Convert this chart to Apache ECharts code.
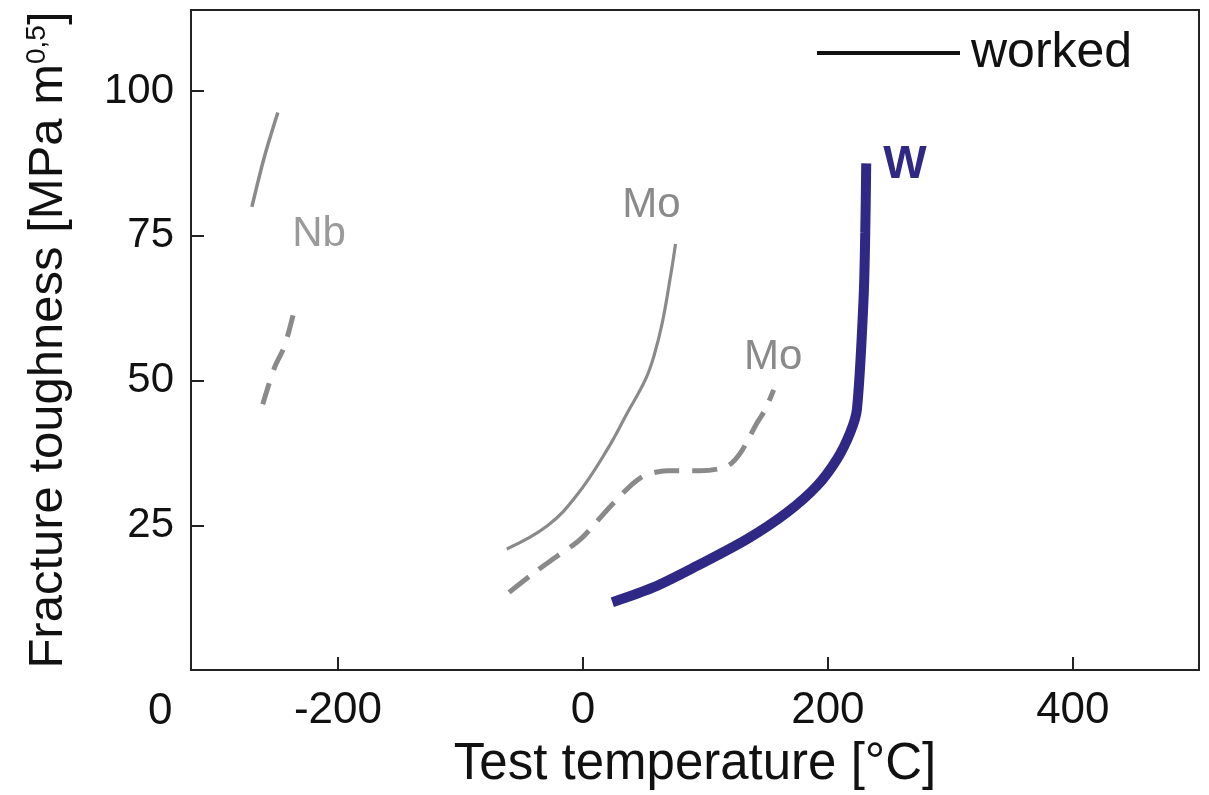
<!DOCTYPE html>
<html>
<head>
<meta charset="utf-8">
<script src="https://cdn.jsdelivr.net/npm/echarts@6/dist/echarts.min.js"></script>
<style>
html,body{margin:0;padding:0;background:#fff;}
#c{width:1209px;height:795px;}
</style>
</head>
<body>
<div id="c"></div>
<script>
// ---- data (temperature in °C, toughness in MPa m^0.5) ----
const xTicks = [-200, 0, 200, 400];
const yTicks = [25, 50, 75, 100];

const nbSolid = [[-270.3, 80.0], [-260.0, 88.7], [-249.1, 96.3]];
const nbDashed = [[-261.4, 45.9], [-251.9, 52.2], [-243.7, 55.9], [-235.6, 62.2]];

const moSolid = [[-62.2, 20.9], [-29.0, 24.9], [-4.6, 30.3], [19.9, 38.1], [36.2, 44.4],
  [51.1, 50.2], [57.9, 54.2], [64.7, 59.9], [71.5, 68.0], [75.6, 73.6]];
const moDashed = [[-60.3, 13.4], [-39.9, 16.8], [-20.9, 19.7], [-1.9, 22.6], [22.6, 28.3],
  [47.0, 33.2], [68.8, 34.4], [95.9, 34.4], [117.7, 35.2], [128.6, 37.5], [142.2, 42.7],
  [148.9, 45.0], [155.7, 48.4]];

const wWorked = [[24.0, 11.7], [57.9, 14.3], [93.3, 18.0], [134.0, 22.6], [166.6, 27.2],
  [191.1, 31.8], [207.4, 36.4], [218.2, 41.0], [223.7, 45.0], [229.1, 64.0],
  [230.5, 75.5], [231.3, 87.5]];

const labelNames = ['Nb', 'Mo', 'Mo', 'W'];
const labelPos = [[-215.4, 75.2], [56.0, 80.3], [155.3, 54.0], [263.0, 87.2]];

const FONT = "'Liberation Sans', Arial, Helvetica, sans-serif";
const GREY = '#8a8a8a';
const NAVY = '#2f2884';

const labelStyles = {
  Nb: {color: '#9a9a9a', fontSize: 42},
  Mo: {color: GREY, fontSize: 42},
  W: {color: NAVY, fontSize: 46, fontWeight: 'bold'}
};
const labelData = labelNames.map(function (n, i) {
  return {name: n, value: labelPos[i], label: labelStyles[n]};
});

const chart = echarts.init(document.getElementById('c'), null, {renderer: 'canvas'});
chart.setOption({
  animation: false,
  backgroundColor: '#fff',
  grid: {left: 191, right: 10, top: 10, bottom: 121, show: true,
    borderColor: '#222', borderWidth: 2, backgroundColor: 'transparent'},
  legend: {
    data: [{name: 'worked', icon: 'rect'}],
    left: 812, top: 23,
    itemWidth: 143, itemHeight: 4, itemGap: 13,
    textStyle: {fontSize: 50, fontFamily: FONT, color: '#111', padding: [0, 0, 0, 6]},
    selectedMode: false
  },
  xAxis: {
    type: 'value', min: -320, max: 503,
    name: 'Test temperature [°C]', nameLocation: 'middle', nameGap: 69,
    nameTextStyle: {fontSize: 51, fontFamily: FONT, color: '#111'},
    axisLine: {show: true, onZero: false, lineStyle: {color: '#222', width: 2}},
    axisTick: {show: true, inside: true, length: 13, customValues: xTicks,
      lineStyle: {color: '#222', width: 2}},
    axisLabel: {show: true, customValues: xTicks, margin: 19, fontSize: 44,
      fontFamily: FONT, color: '#111'},
    splitLine: {show: false}
  },
  yAxis: {
    type: 'value', min: 0, max: 114,
    name: 'Fracture toughness [MPa m{sup|0,5}]', nameLocation: 'middle', nameGap: 118,
    nameRotate: 90,
    nameTextStyle: {fontSize: 49, fontFamily: FONT, color: '#111',
      rich: {sup: {fontSize: 28, fontFamily: FONT, color: '#111', verticalAlign: 'top', padding: [0, 0, 22, 0]}}},
    axisLine: {show: true, onZero: false, lineStyle: {color: '#222', width: 2}},
    axisTick: {show: true, inside: true, length: 13, customValues: yTicks,
      lineStyle: {color: '#222', width: 2}},
    axisLabel: {show: true, customValues: yTicks, margin: 17, fontSize: 42,
      fontFamily: FONT, color: '#111'},
    splitLine: {show: false}
  },
  graphic: [{
    type: 'text', left: 148, top: 690,
    style: {text: '0', fontSize: 44, fontFamily: FONT, fill: '#111'}
  }],
  series: [
    {name: 'worked', type: 'line', data: [], color: '#111', lineStyle: {color: '#111', width: 4}},
    {name: 'Nb solid', type: 'line', data: nbSolid, smooth: 0.3, showSymbol: false,
      lineStyle: {color: GREY, width: 3.5}},
    {name: 'Nb dashed', type: 'line', data: nbDashed, smooth: 0.3, showSymbol: false,
      lineStyle: {color: GREY, width: 5, type: [22, 14]}},
    {name: 'Mo solid', type: 'line', data: moSolid, smooth: 0.4, showSymbol: false,
      lineStyle: {color: GREY, width: 3.2}},
    {name: 'Mo dashed', type: 'line', data: moDashed, smooth: 0.3, showSymbol: false,
      lineStyle: {color: GREY, width: 5, type: [25, 13]}},
    {name: 'W', type: 'line', data: wWorked, smooth: 0.3, showSymbol: false,
      lineStyle: {color: NAVY, width: 10}},
    {name: 'labels', type: 'scatter', data: labelData, symbolSize: 0, silent: true,
      itemStyle: {opacity: 1},
      label: {show: true, position: 'inside', formatter: '{b}', fontFamily: FONT,
        fontSize: 42, color: GREY},
      labelLayout: {hideOverlap: false}}
  ]
});
</script>
</body>
</html>
